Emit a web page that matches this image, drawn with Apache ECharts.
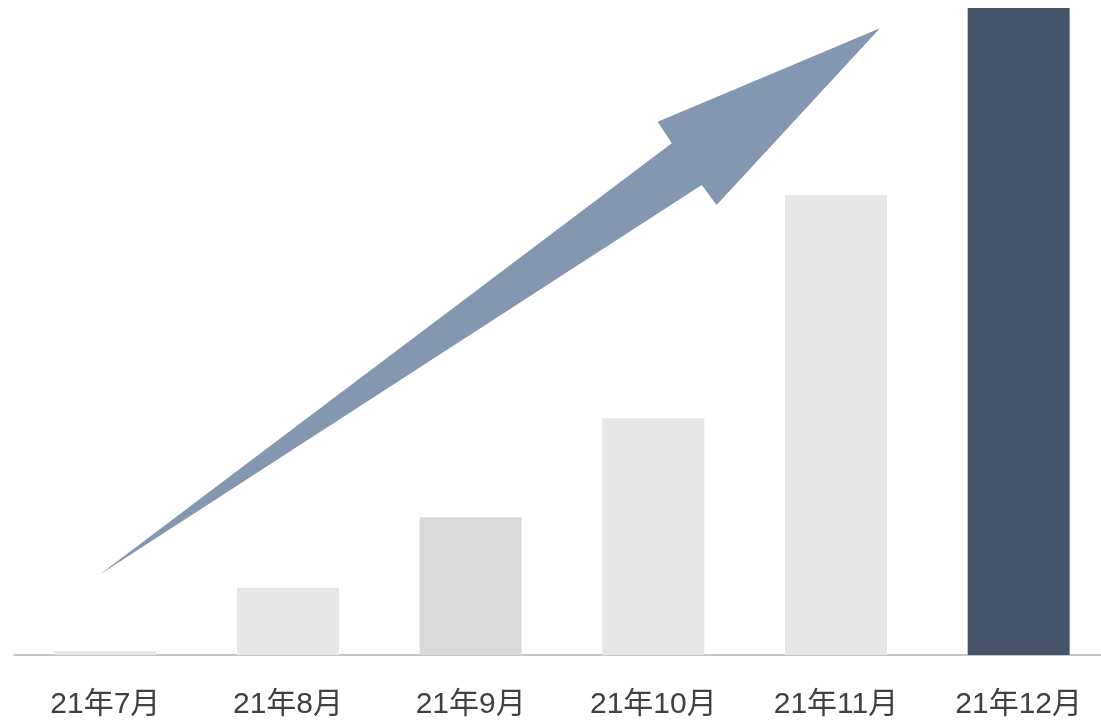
<!DOCTYPE html>
<html>
<head>
<meta charset="utf-8">
<script src="https://cdn.jsdelivr.net/npm/echarts@6/dist/echarts.min.js"></script>
<style>
  html, body { margin: 0; padding: 0; background: #ffffff; overflow: hidden; }
  #chart { width: 1110px; height: 720px; }
</style>
</head>
<body>
<div id="chart"></div>
<script>
// Monthly categories and values (relative, December = 100)
const months = ['21年7月', '21年8月', '21年9月', '21年10月', '21年11月', '21年12月'];
const values = [0.6, 10.4, 21.3, 36.6, 71.1, 100];
const barColors = ['#e6e6e6', '#e6e6e6', '#d9d9d9', '#e6e6e6', '#e6e6e6', '#44546a'];

// Trend arrow outline: [horizontal fraction of plot width, value]
const arrowX = [0.0776, 0.6001, 0.5873, 0.7901, 0.6411, 0.6275];
const arrowY = [12.36, 79.09, 82.43, 96.86, 69.55, 72.64];

const chart = echarts.init(document.getElementById('chart'));

chart.setOption({
  animation: false,
  grid: { left: 14, right: 0, top: 8, bottom: 65, containLabel: false },
  xAxis: [
    {
      type: 'category',
      data: months,
      axisLine: { show: true, lineStyle: { color: '#b4b4b4', width: 1.5 } },
      axisTick: { show: false },
      axisLabel: {
        margin: 35,
        fontSize: 30,
        color: '#404040',
        fontFamily: '"Liberation Sans", Arial, "Noto Sans CJK SC", sans-serif'
      }
    },
    { type: 'value', min: 0, max: 1, show: false }
  ],
  yAxis: {
    type: 'value',
    min: 0,
    max: 100,
    show: false,
    splitLine: { show: false }
  },
  series: [
    {
      type: 'bar',
      xAxisIndex: 0,
      barWidth: 102,
      data: values.map((v, i) => ({ value: v, itemStyle: { color: barColors[i] } })),
      z: 1
    },
    {
      type: 'custom',
      xAxisIndex: 1,
      data: [0],
      silent: true,
      z: 3,
      renderItem: function (params, api) {
        const pts = arrowX.map((x, i) => api.coord([x, arrowY[i]]));
        return {
          type: 'polygon',
          shape: { points: pts },
          style: { fill: '#8497b0' }
        };
      }
    }
  ]
});
</script>
</body>
</html>
